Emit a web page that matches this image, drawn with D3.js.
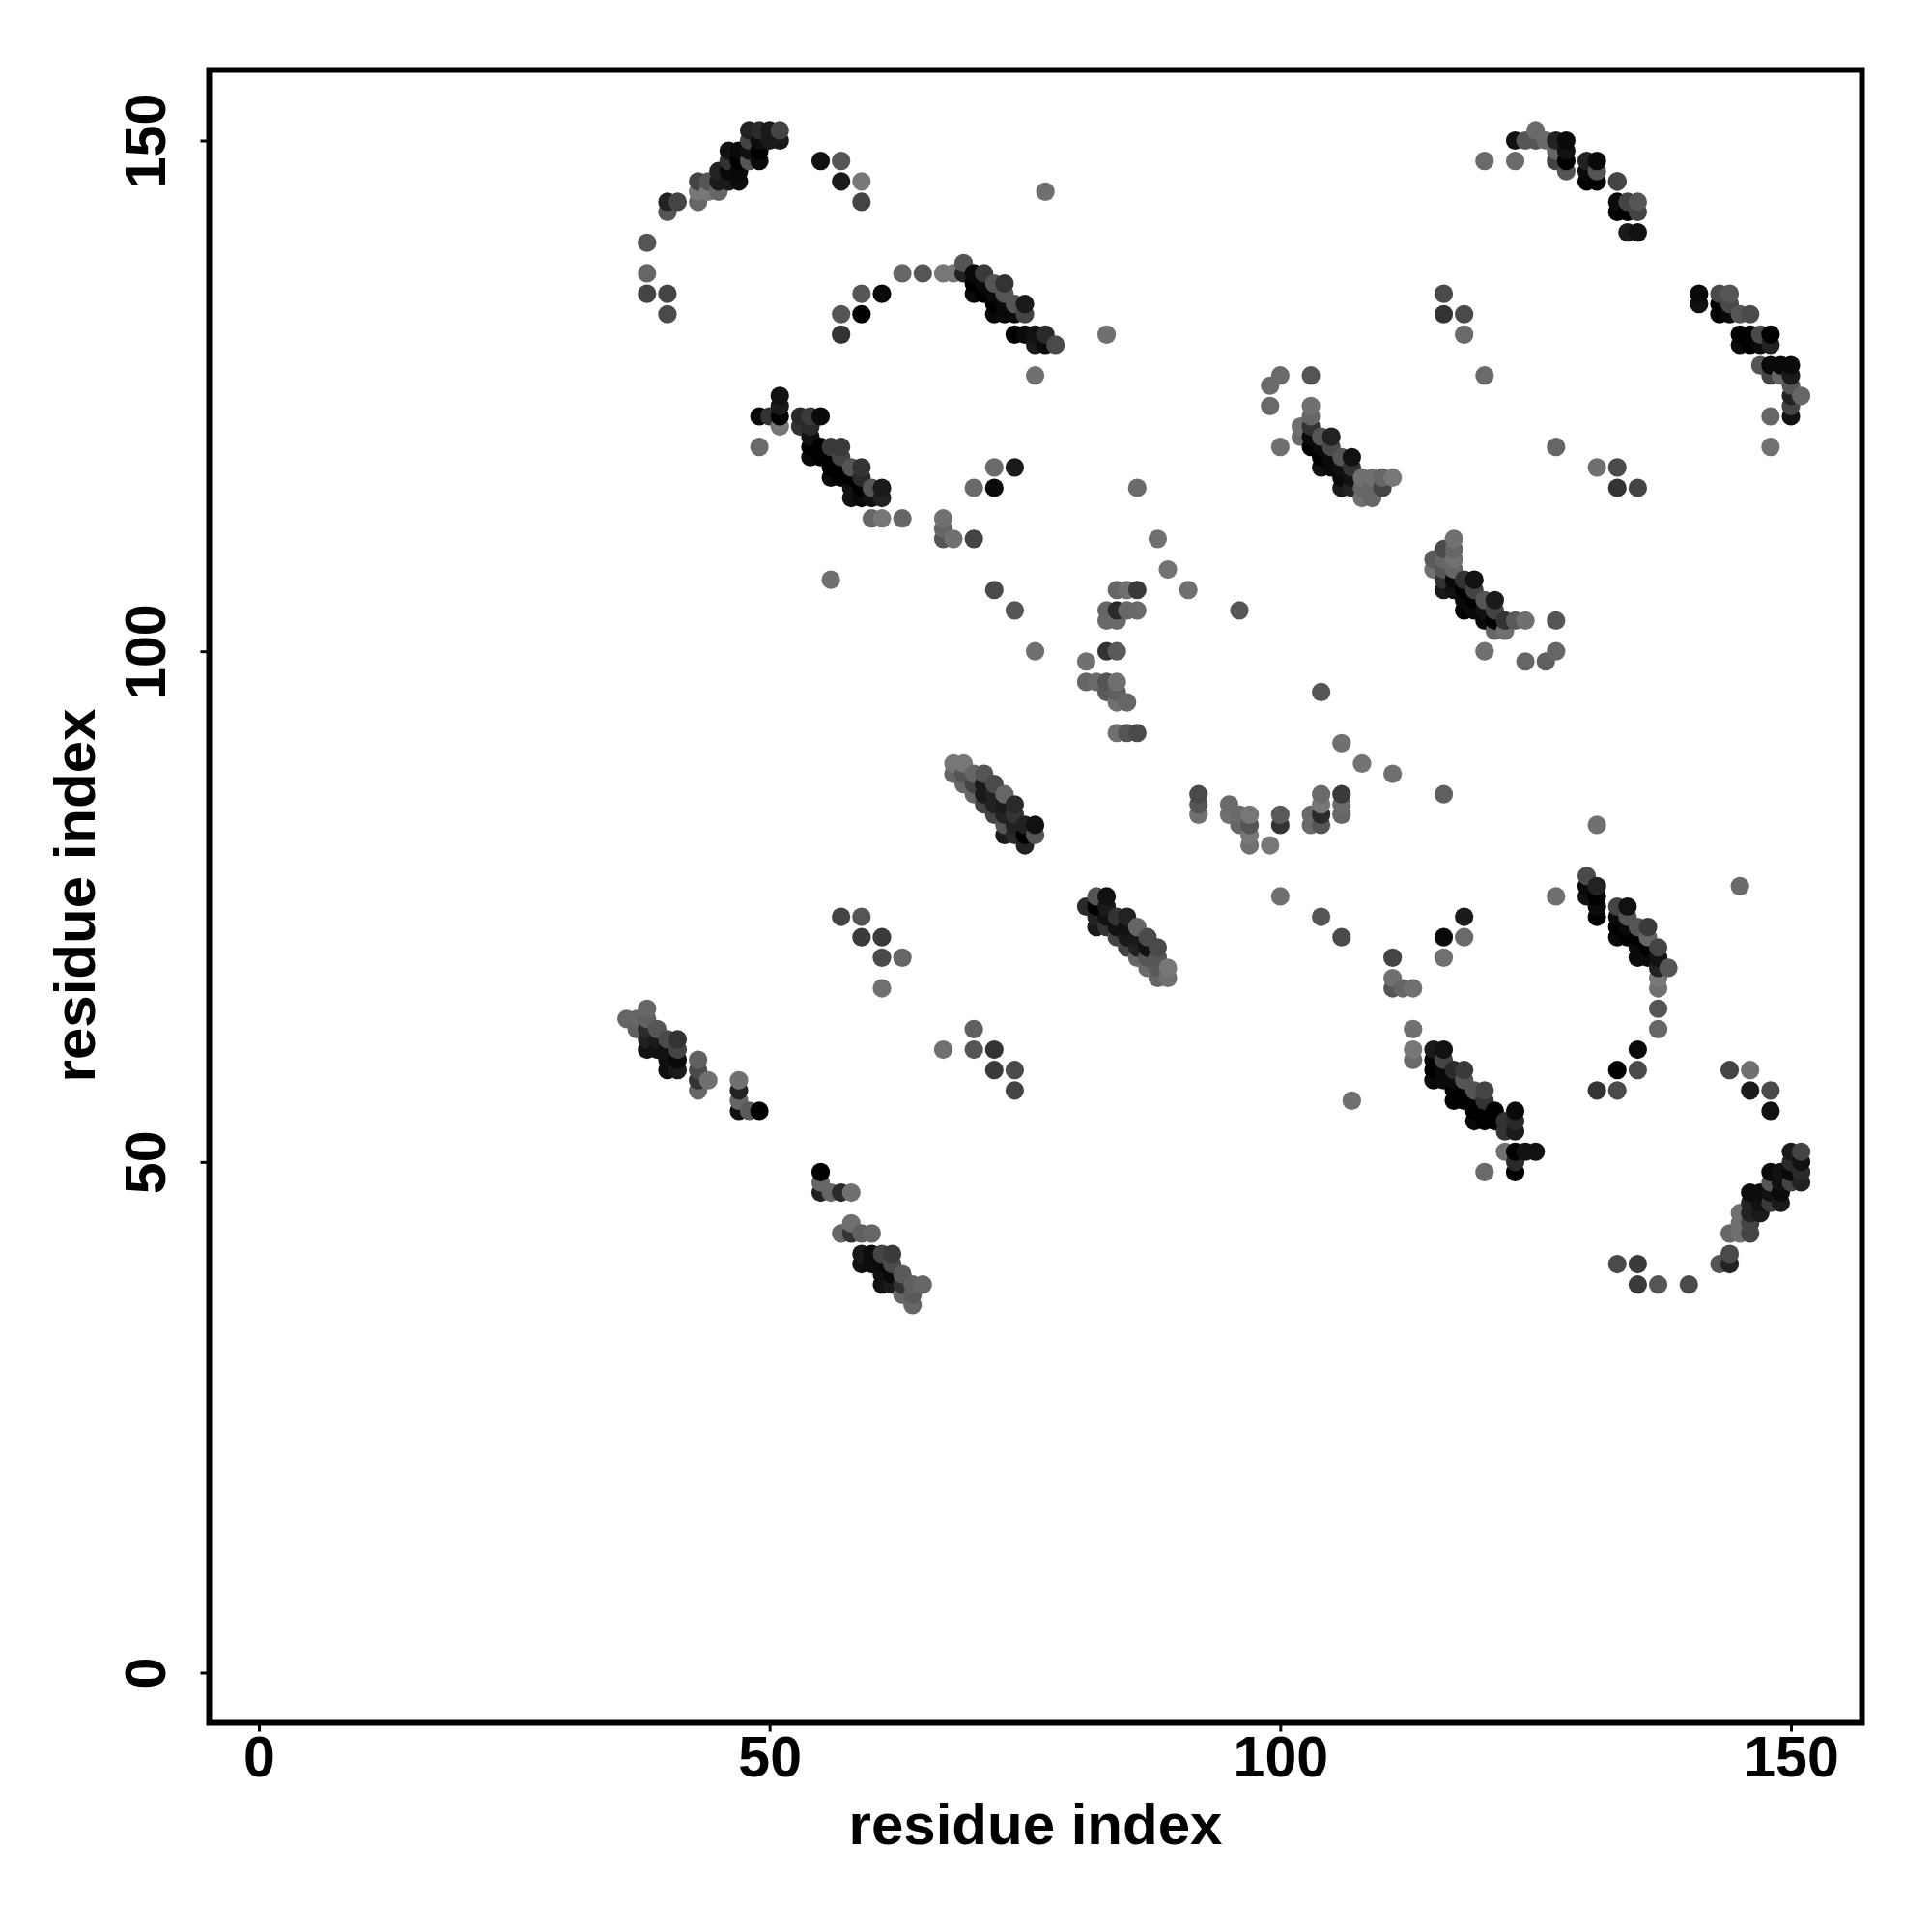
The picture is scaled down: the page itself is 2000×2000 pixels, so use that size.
<!DOCTYPE html>
<html><head><meta charset="utf-8">
<script src="https://cdn.jsdelivr.net/npm/d3@7"></script>
<style>html,body{margin:0;padding:0;background:#fff}svg{display:block}text{font-family:"Liberation Sans",Arial,sans-serif;font-weight:700;fill:#000}</style>
</head><body>
<div id="chart"></div>
<script>
// One line per row of the picture: same line structure in all three arrays.
const residueX = [
48,49,50,51, 48,49,50,51, 46,47,48,49, 46,47,48,49, 45,46,47, 43,44,45,46,47, 43,44,45, 40,41,43, 40, 38, 38, 38,40, 40,
55,57, 57,59, 59, 77,
63,65,67,68,69,70,71, 69, 70,71,72,73, 70,71,72,73, 72,73,74,75, 72,73,74,75, 74,75,76,77, 76,77,78, 59,61, 57,59, 57, 76,
49,50,51,53,54,55, 51, 51, 51,53,54, 49,54,55,56,57, 54, 54,55,56,57, 56,57,58,59, 56,57,58,59, 58,59,60,61, 58,59,60,61,
60,61,63,67, 67, 67,68,70, 72,74, 70,72,86, 88, 89, 91, 56, 72,84,85,86, 74,83,84,85,86, 83,84, 76,83,84, 81, 81,82,83,84, 83,84, 84,85, 84,85,86,
68,69, 68,69,70,71, 69,70,71,72, 70,71,72,73, 71,72,73,74, 72,73,74, 73,74,75,76, 73,74,75,76, 75,
92, 92, 92, 95, 95,96, 96, 97, 97, 97, 97, 99, 100, 100, 103, 103, 104, 104, 104, 104, 106, 106, 106, 106, 108, 111, 116,
81, 82,83, 82,83, 82,83,84,85, 82,83,84,85,86, 84,85,86,87, 85,86,87,88, 86,87,88, 87,88,89, 88,89,
100, 104, 106, 111, 111, 111,112,113, 116, 118, 118, 116, 113, 113, 113, 107,
115,116, 115,116, 115,116,117,118, 115,116,117,118, 117,118,119,120, 117,118,119,120, 119,120,121,123, 119,120,121,122,123, 122,123, 122,123,124,125, 123, 120,123,
133, 135, 135, 131,133, 144, 146, 146,148, 148,
133,135, 135,137,140, 143,144, 144, 144,145,146, 145,146, 145,146,147, 146,147,148,149, 146,147,148,149, 148,149,150,151, 148,149,150,151, 150,151, 150,151,
127, 131, 145, 130, 130,131, 130,131, 131, 131, 133,134, 133,134, 133,134,135,136, 133,134,135,136, 135,136,137, 135,136,137, 137,138, 137, 137, 137, 137,
125, 123,124,125,126,127,128, 127,128, 120,123,127,128, 128, 130,131, 130,131,133, 130,131,133, 133,134,135, 133,134,135, 134,135,
116, 116,118, 118, 83, 100, 99, 103, 99, 103, 103, 102, 102, 103, 103, 104, 105, 100, 103,104,105, 104,105,106,107, 104,105,106,107,
120, 141,143,144, 141,143,144, 143,144,145,146, 145,146,147,148, 145,146,147,148, 147,148,149,150, 148,149,150, 150, 150,151, 150, 148,150, 148, 127, 131, 133, 133, 135,
106,107,108,109,110,111, 106,107,108,109,110, 108,109,
117, 116,117, 115,116,117, 115,116,117, 116,117,118,119, 116,117,118,119, 118,119,120,121, 118,119,120,121, 120,121,122,123,124, 121,122, 120, 127, 127, 124, 126, 96, 104,
57,59, 59,61, 61,63, 61, 70, 67,70,72, 72,74, 74,
38, 36,37,38, 37,38,39, 38,39,40,41, 38,39,40,41, 40,41, 40,41, 43, 43, 43,44, 43, 47, 47, 47, 47,48,49,
55, 55, 55,56,57,58, 58, 57,58,59,60, 59,60,61,62, 59,60,61,62, 61,62,63, 61,62,63,64,65, 63,64, 64
];
const residueY = [
151,151,151,151, 150,150,150,150, 149,149,149,149, 148,148,148,148, 147,147,147, 146,146,146,146,146, 145,145,145, 144,144,144, 143, 140, 137, 135,135, 133,
148,148, 146,146, 144, 145,
137,137,137,137,137,137,137, 138, 136,136,136,136, 135,135,135,135, 134,134,134,134, 133,133,133,133, 131,131,131,131, 130,130,130, 135,135, 133,133, 131, 127,
123,123,123,123,123,123, 124, 125, 122,122,122, 120,120,120,120,120, 121, 119,119,119,119, 118,118,118,118, 117,117,117,117, 116,116,116,116, 115,115,115,115,
113,113,113,113, 112, 111,111,111, 118,118, 116,116,116, 111, 108, 106, 107, 106,106,106,106, 104,104,104,104,104, 103,103, 100,100,100, 99, 97,97,97,97, 96,96, 95,95, 92,92,92,
89,89, 88,88,88,88, 87,87,87,87, 86,86,86,86, 85,85,85,85, 84,84,84, 83,83,83,83, 82,82,82,82, 81,
86, 85, 84, 85, 84,84, 83, 84, 83, 82, 81, 81, 84, 83, 84, 83, 86, 85, 84, 83, 86, 85, 84, 91, 89, 88, 86,
75, 76,76, 75,75, 74,74,74,74, 73,73,73,73,73, 72,72,72,72, 71,71,71,71, 70,70,70, 69,69,69, 68,68,
76, 74, 72, 70, 68, 67,67,67, 72, 74, 72, 70, 63, 61, 60, 56,
61,61, 60,60, 59,59,59,59, 58,58,58,58, 57,57,57,57, 56,56,56,56, 55,55,55,55, 54,54,54,54,54, 53,53, 51,51,51,51, 50, 49,49,
59, 61, 59, 57,57, 59, 59, 57,57, 55,
40,40, 38,38,38, 40,40, 41, 43,43,43, 44,44, 45,45,45, 46,46,46,46, 47,47,47,47, 48,48,48,48, 49,49,49,49, 50,50, 51,51,
76, 83, 77, 78, 77,77, 76,76, 75, 74, 75,75, 74,74, 73,73,73,73, 72,72,72,72, 71,71,71, 70,70,70, 69,69, 68, 67, 65, 63,
151, 150,150,150,150,150,150, 149,149, 148,148,148,148, 147, 148,148, 147,147,146, 146,146,146, 144,144,144, 143,143,143, 141,141,
135, 133,133, 131, 131, 127, 126, 127, 124, 124, 123, 122, 121, 122, 121, 121, 121, 120, 120,120,120, 119,119,119,119, 118,118,118,118,
127, 135,135,135, 134,134,134, 133,133,133,133, 131,131,131,131, 130,130,130,130, 128,128,128,128, 127,127,127, 126, 125,125, 124, 123,123, 120, 120, 118, 118, 116, 116,
117,117,117,117,117,117, 116,116,116,116,116, 115,115,
111, 110,110, 109,109,109, 108,108,108, 107,107,107,107, 106,106,106,106, 105,105,105,105, 104,104,104,104, 103,103,103,103,103, 102,102, 100, 103, 100, 99, 99, 104, 96,
74,74, 72,72, 70,70, 67, 63, 61,61,61, 59,59, 57,
65, 64,64,64, 63,63,63, 62,62,62,62, 61,61,61,61, 60,60, 59,59, 60, 59, 58,58, 57, 58, 57, 56, 55,55,55,
49, 48, 47,47,47,47, 44, 43,43,43,43, 41,41,41,41, 40,40,40,40, 39,39,39, 38,38,38,38,38, 37,37, 36
];
const greyLevel = [
34,42,26,68, 68,13,26,26, 17,10,17,0, 51,0,85,10, 34,10,10, 68,85,26,26,13, 119,119,102, 34,68,102, 85, 85, 102, 68,68, 74,
17,85, 26,119, 68, 112,
102,85,119,119,34,10,58, 85, 0,10,85,51, 10,0,10,85, 0,10,85,26, 10,10,10,68, 0,10,17,42, 26,10,74, 85,10, 85,0, 51, 112,
10,51,0,42,58,10, 26, 17, 119,51,42, 106,0,0,58,58, 17, 10,0,0,68, 0,0,85,51, 10,0,0,42, 17,0,85,26, 17,10,17,34,
102,119,102,112, 102, 85,112,68, 106,26, 106,10,106, 112, 115, 112, 112, 74,102,112,58, 85,102,42,102,106, 106,106, 112,51,90, 112, 102,106,85,112, 90,96, 112,102, 112,85,74,
119,119, 102,85,102,85, 102,68,26,74, 102,26,34,102, 68,34,26,42, 68,34,51, 85,34,34,17, 26,42,0,85, 34,
74, 85, 112, 106, 112,106, 102, 119, 85, 119, 112, 119, 90, 51, 106, 106, 106, 119, 42, 85, 58, 106, 102, 112, 115, 112, 96,
42, 85,17, 0,26, 34,17,51,34, 26,51,17,17,102, 68,26,26,74, 68,34,17,74, 102,85,85, 106,90,119, 102,112,
112, 85, 74, 68, 112, 85,102,112, 10, 26, 106, 112, 112, 119, 106, 112,
26,17, 0,68, 0,10,42,58, 10,10,10,85, 0,0,85,68, 0,0,0,51, 0,0,0,10, 10,0,0,51,42, 51,26, 112,0,17,17, 42, 106,0,
0, 10, 74, 51,74, 68, 112, 26,74, 17,
74,58, 58,85,74, 85,34, 74, 102,112,68, 112,68, 112,34,26, 34,17,58,26, 13,13,17,10, 85,17,68,34, 10,17,10,42, 42,17, 26,68,
112, 112, 106, 74, 10,34, 17,0, 10, 0, 68,17, 10,85, 0,10,85,58, 10,0,0,102, 10,0,68, 10,10,17, 34,85, 119, 112, 85, 102,
106, 17,85,85,106,34,10, 102,17, 106,106,68,0, 85, 34,10, 10,85,58, 0,0,68, 10,68,85, 0,0,68, 26,17,
74, 51,74, 106, 112, 106, 106, 85, 106, 112, 102, 112, 106, 51, 10, 85, 34, 112, 0,10,74, 0,10,85,17, 17,10,17,51,
106, 10,74,85, 17,0,74, 0,10,85,74, 0,0,74,0, 10,0,10,34, 85,10,10,10, 68,102,26, 85, 34,102, 68, 102,17, 112, 102, 112, 74, 51, 68,
10,17,112,112,102,119, 26,34,102,102,68, 112,102,
112, 74,102, 90,102,112, 112,85,102, 51,10,51,17, 26,17,0,68, 10,0,85,26, 0,10,17,68, 10,0,51,90,112, 102,112, 112, 85, 102, 102, 96, 85, 85,
68,85, 58,58, 74,102, 112, 96, 112,85,51, 58,74, 68,
102, 102,102,96, 96,42,85, 34,26,74,51, 17,17,17,68, 17,10, 13,26, 96, 74, 51,112, 102, 112, 34, 102, 17,90,0,
0, 102, 34,102,42,112, 112, 102,51,96,102, 26,13,68,58, 17,13,10,74, 17,10,90, 17,26,51,96,102, 102,90, 102
];

const tickValues = [0, 50, 100, 150];
const axisTitle = "residue index";

const width = 2000, height = 2000;
const x = d3.scaleLinear().domain([0, 150]).range([268, 1854]);
const y = d3.scaleLinear().domain([0, 150]).range([1731.5, 145.5]);
const frame = { left: 216.5, right: 1927.5, top: 72.5, bottom: 1783.5 };

const svg = d3.select("#chart").append("svg").attr("width", width).attr("height", height);

const contacts = residueX
  .map((v, k) => ({ x: v, y: residueY[k], g: greyLevel[k] }))
  .sort((a, b) => d3.ascending(a.x, b.x) || d3.ascending(a.y, b.y));

svg.append("g").selectAll("circle").data(contacts).join("circle")
  .attr("cx", d => x(d.x)).attr("cy", d => y(d.y)).attr("r", 9.6)
  .attr("fill", d => d3.rgb(d.g, d.g, d.g));

svg.append("rect")
  .attr("x", frame.left).attr("y", frame.top)
  .attr("width", frame.right - frame.left).attr("height", frame.bottom - frame.top)
  .attr("fill", "none").attr("stroke", "#000").attr("stroke-width", 6);

const xAxis = d3.axisBottom(x).tickValues(tickValues).tickSize(9).tickPadding(0);
const gx = svg.append("g").attr("transform", `translate(0,${frame.bottom})`).call(xAxis);
gx.select(".domain").remove();
gx.selectAll("line").attr("stroke", "#000").attr("stroke-width", 3);
gx.selectAll("text").attr("font-size", 59).attr("y", 0).attr("dy", 55.5).style("font-family", '"Liberation Sans"').style("font-weight", 700);

const yAxis = d3.axisLeft(y).tickValues(tickValues).tickSize(9).tickPadding(0);
const gy = svg.append("g").attr("transform", `translate(${frame.left},0)`).call(yAxis);
gy.select(".domain").remove();
gy.selectAll("line").attr("stroke", "#000").attr("stroke-width", 3);
gy.selectAll("text")
  .attr("font-size", 59).attr("x", null).attr("dy", null)
  .attr("text-anchor", "middle")
  .attr("transform", `translate(-45.5,0) rotate(-90)`)
  .style("font-family", '"Liberation Sans"').style("font-weight", 700);

svg.append("text").attr("x", 1072).attr("y", 1909).attr("text-anchor", "middle")
  .attr("font-size", 60).text(axisTitle);
svg.append("text").attr("transform", "translate(98,927) rotate(-90)").attr("text-anchor", "middle")
  .attr("font-size", 60).text(axisTitle);

if (residueX.length !== residueY.length || residueX.length !== greyLevel.length) {
  throw new Error("length mismatch");
}
</script>
</body></html>
